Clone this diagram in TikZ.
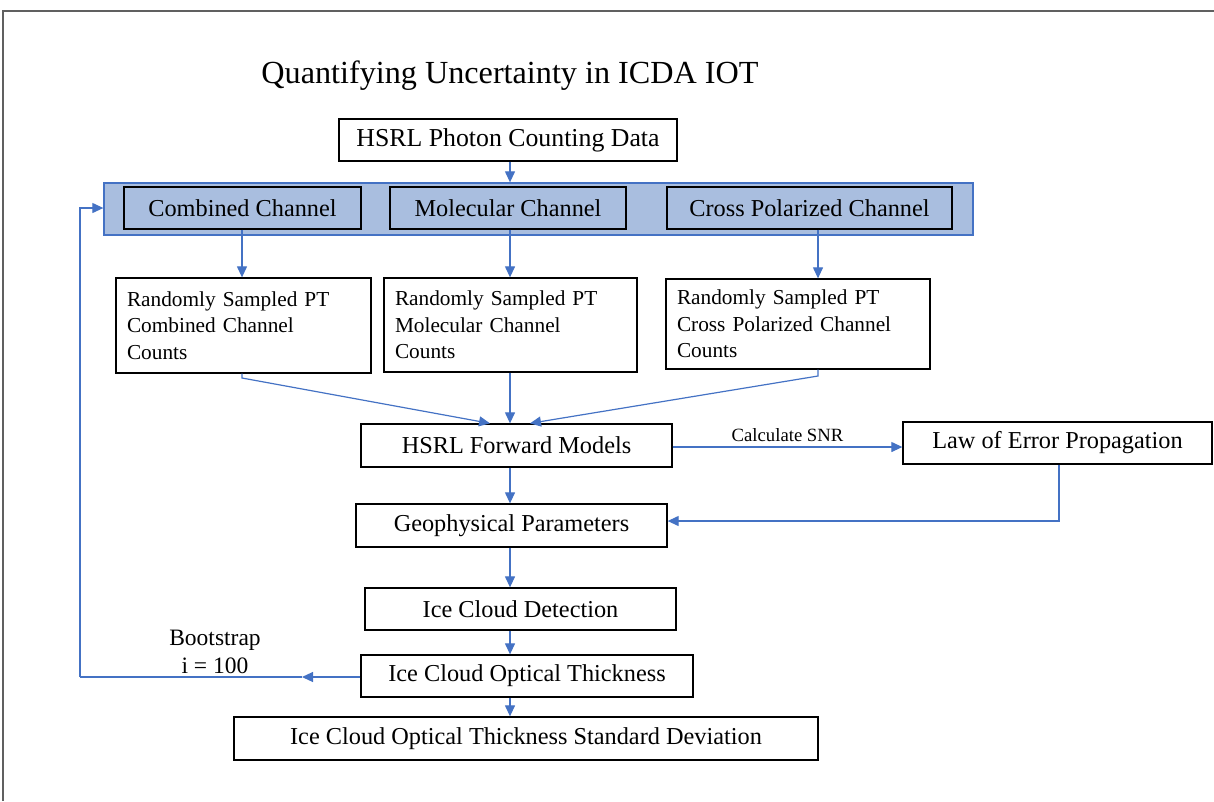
\documentclass[tikz,border=0pt]{standalone}
\usepackage{fontspec}
\setmainfont{Liberation Serif}
\usetikzlibrary{arrows.meta,calc}
\definecolor{bandfill}{HTML}{A9BEDF}
\definecolor{arrblue}{HTML}{4472C4}
\definecolor{framegray}{HTML}{606060}
\tikzset{
  box/.style={draw=black, line width=1.3pt, fill=white, inner sep=0pt, align=center,
    font=\fontsize{24.3}{29}\selectfont},
  chbox/.style={box, fill=bandfill},
  rbox/.style={draw=black, line width=1.3pt, fill=white, inner xsep=11pt, inner ysep=0pt, align=left,
    font=\fontsize{21.3}{26.5}\selectfont},
  arr/.style={draw=arrblue, line width=1.2pt, -{Triangle[length=11pt,width=10pt]}},
  ln/.style={draw=arrblue, line width=1.2pt}
}
\begin{document}
\begin{tikzpicture}[x=1pt,y=-1pt]
\useasboundingbox (0,0) rectangle (1214,801);
\draw[framegray, line width=1.5pt] (3,801) -- (3,11) -- (1214,11);

\node (title) at (510,76) {\fontsize{32.2}{37}\selectfont Quantifying Uncertainty in ICDA IOT};

\node[box, minimum width=338pt, minimum height=42pt, font=\fontsize{25.8}{30}\selectfont] (photon) at (508,140) {HSRL Photon Counting Data};

\node[draw=arrblue, line width=1.3pt, fill=bandfill, minimum width=869pt, minimum height=52pt, inner sep=0pt] (band) at (538.5,209) {};
\node[chbox, minimum width=237pt, minimum height=42pt] (comb) at (242.5,208) {Combined Channel};
\node[chbox, minimum width=236pt, minimum height=42pt] (mol) at (508,208) {Molecular Channel};
\node[chbox, minimum width=285pt, minimum height=42pt] (cross) at (809.5,208) {Cross Polarized Channel};

\node[rbox, text width=233pt, minimum height=95pt] (r1) at (243.5,325.5) {Randomly Sampled PT\\Combined Channel\\Counts};
\node[rbox, text width=231pt, minimum height=94pt] (r2) at (510.5,325) {Randomly Sampled PT\\Molecular Channel\\Counts};
\node[rbox, text width=242pt, minimum height=90pt] (r3) at (798,324) {Randomly Sampled PT\\Cross Polarized Channel\\Counts};

\node[box, minimum width=311pt, minimum height=43pt] (fm) at (516.5,445.5) {HSRL Forward Models};
\node[box, minimum width=309pt, minimum height=42pt] (lep) at (1057.5,443) {Law of Error Propagation};
\node[box, minimum width=311pt, minimum height=43pt] (geo) at (511.5,525.5) {Geophysical Parameters};
\node[box, minimum width=311pt, minimum height=42pt] (icd) at (520.5,609) {Ice Cloud Detection};
\node[box, minimum width=332pt, minimum height=42pt] (icot) at (527,676) {Ice Cloud Optical Thickness};
\node[box, minimum width=584pt, minimum height=43pt] (sd) at (526,738.5) {Ice Cloud Optical Thickness Standard Deviation};

\coordinate (cx) at (510,0);
\coordinate (c1) at (242,0);
\coordinate (c3) at (818,0);
\coordinate (cl) at (1059,0);

% top arrows
\draw[arr] (photon.south -| cx) -- (band.north -| cx);
\draw[arr] (comb.south -| c1) -- (r1.north -| c1);
\draw[arr] (mol.south -| cx) -- (r2.north -| cx);
\draw[arr] (cross.south -| c3) -- (r3.north -| c3);

% converging
\coordinate (k1) at (242,378);
\coordinate (k3) at (818,376);
\coordinate (t1) at (490,0);
\coordinate (t3) at (530,0);
\draw[arr] (r1.south -| c1) -- (k1) -- (fm.north -| t1);
\draw[arr] (r2.south -| cx) -- (fm.north -| cx);
\draw[arr] (r3.south -| c3) -- (k3) -- (fm.north -| t3);

% SNR
\coordinate (snr) at (0,447);
\draw[arr] (fm.east |- snr) -- (lep.west |- snr) node[midway, above=1pt, font=\fontsize{18.7}{21}\selectfont] (snrlabel) {Calculate SNR};
\coordinate (gy) at (0,521);
\draw[arr] (lep.south -| cl) -- (cl |- gy) -- (geo.east |- gy);

% main chain
\draw[arr] (fm.south -| cx) -- (geo.north -| cx);
\draw[arr] (geo.south -| cx) -- (icd.north -| cx);
\draw[arr] (icd.south -| cx) -- (icot.north -| cx);
\draw[arr] (icot.south -| cx) -- (sd.north -| cx);

% bootstrap loop
\coordinate (bmid) at (302,677);
\coordinate (bl) at (80,677);
\coordinate (bt) at (80,208);
\draw[arr] (icot.west |- bmid) -- (bmid);
\draw[ln] (bmid) -- (bl);
\draw[arr] (bl) -- (bt) -- (band.west |- bt);
\node[align=center, font=\fontsize{23.5}{28}\selectfont] (boot) at (215,652) {Bootstrap\\i = 100};
\end{tikzpicture}
\end{document}
